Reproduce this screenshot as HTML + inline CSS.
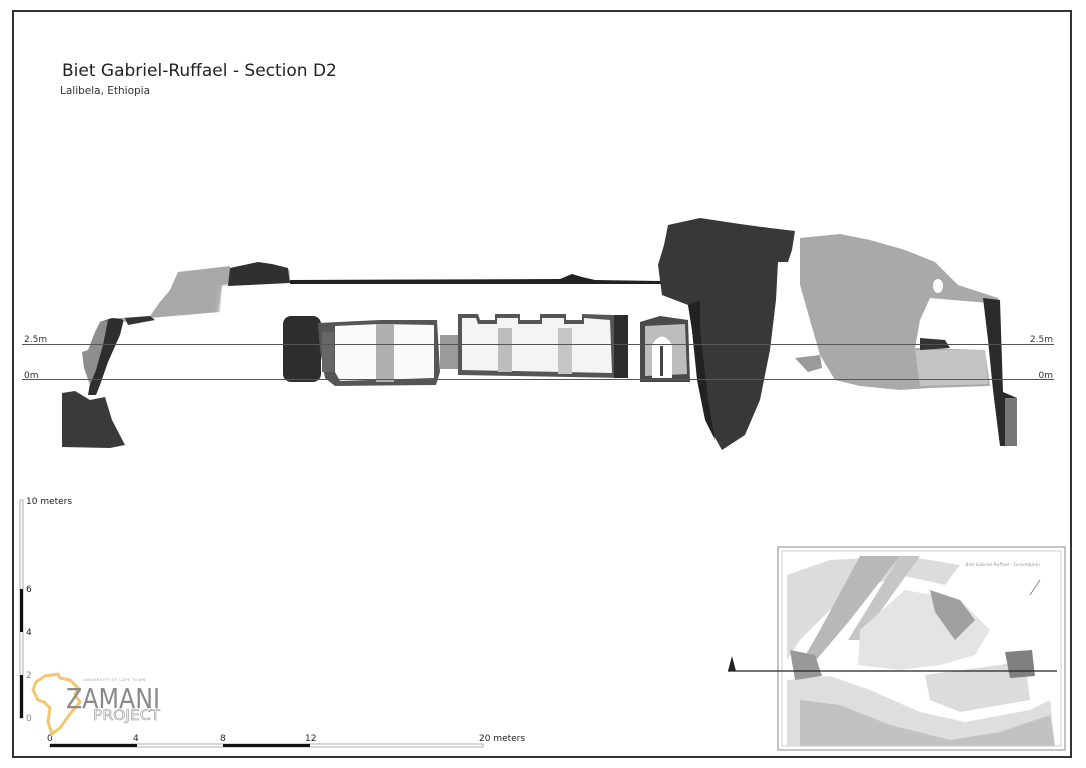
<!DOCTYPE html>
<html><head><meta charset="utf-8"><style>
html,body{margin:0;padding:0;background:#fff;width:1086px;height:768px;overflow:hidden}
svg{display:block}
text{font-family:"DejaVu Sans","Liberation Sans",sans-serif}
</style></head><body>
<svg width="1086" height="768" viewBox="0 0 1086 768" xmlns="http://www.w3.org/2000/svg">
<rect x="13" y="11" width="1058" height="746" fill="#fff" stroke="#333" stroke-width="2"/>
<text x="62" y="76" font-size="17" fill="#222">Biet Gabriel-Ruffael - Section D2</text>
<text x="60" y="94" font-size="10.5" fill="#333">Lalibela, Ethiopia</text>

<!-- left section -->
<polygon points="62,393 75,391 90,400 105,397 112,420 125,445 110,448 62,447" fill="#3a3a3a"/>
<polygon points="100,322 112,318 124,319 120,335 108,362 100,385 96,395 88,395 92,372 97,350" fill="#2e2e2e"/>
<polygon points="88,350 95,332 100,322 108,320 103,345 96,370 90,385 84,368 82,352" fill="#8e8e8e"/>
<polygon points="120,318 150,316 160,302 170,290 178,272 230,266 232,283 222,285 218,312 150,318 125,322" fill="#a8a8a8"/>
<polygon points="160,318 215,312 218,285 232,284 232,268 262,263 278,266 290,270 290,282 222,286 220,312" fill="#b5b5b5" opacity="0.6"/>
<polygon points="230,268 258,262 272,264 288,268 290,283 228,286" fill="#303030"/>
<polygon points="125,318 150,316 155,320 128,325" fill="#333"/>
<polygon points="290,280 560,279 572,274 582,277 595,280 662,281 662,284 290,284" fill="#222"/>

<!-- central rooms -->
<rect x="283" y="316" width="38" height="66" rx="8" fill="#2d2d2d"/>
<polygon points="318,323 380,320 437,320 440,372 436,385 335,386 325,378 320,350" fill="#555"/>
<polygon points="335,326 380,324 434,325 434,378 340,381 335,372" fill="#fafafa"/>
<rect x="376" y="324" width="18" height="58" fill="#b0b0b0"/>
<rect x="322" y="332" width="12" height="40" fill="#666"/>
<rect x="440" y="335" width="18" height="34" fill="#9a9a9a"/>
<polygon points="458,314 478,314 480,320 495,320 495,314 520,314 520,320 540,320 540,314 566,314 566,320 582,320 582,314 612,315 625,316 625,378 458,375" fill="#555"/>
<polygon points="462,318 476,318 478,324 497,324 497,318 518,318 518,324 542,324 542,318 564,318 564,324 584,324 584,318 610,320 612,373 462,370" fill="#f4f4f4"/>
<rect x="498" y="328" width="14" height="44" fill="#bdbdbd"/>
<rect x="558" y="328" width="14" height="46" fill="#c5c5c5"/>
<rect x="614" y="315" width="14" height="63" fill="#2c2c2c"/>
<polygon points="640,322 660,316 688,320 690,382 640,382" fill="#4a4a4a"/>
<polygon points="645,326 685,324 687,374 645,376" fill="#bdbdbd"/>
<path d="M652,378 V345 Q662,328 672,345 V378 Z" fill="#fff"/>
<rect x="660" y="346" width="3" height="30" fill="#444"/>

<!-- big dark wedge -->
<polygon points="668,225 700,218 740,224 770,228 795,231 792,250 788,262 778,262 776,300 770,350 760,400 745,435 722,450 708,425 698,385 692,330 688,305 662,295 658,265 664,245" fill="#383838"/>
<polygon points="688,305 700,300 700,330 708,400 715,440 705,420 697,380 692,330" fill="#222"/>

<!-- right light mass -->
<polygon points="800,238 840,234 870,240 905,250 935,262 958,285 998,298 1000,304 930,298 920,320 915,348 985,350 990,386 930,388 900,390 860,386 835,380 820,355 810,320 800,285" fill="#a9a9a9"/>
<polygon points="915,350 985,350 988,384 920,386" fill="#c4c4c4"/>
<polygon points="920,338 945,340 950,348 920,350" fill="#333"/>
<polygon points="795,358 820,355 822,368 808,372" fill="#9a9a9a"/>
<ellipse cx="938" cy="286" rx="5" ry="7" fill="#fff"/>
<!-- right dark wall -->
<polygon points="983,298 1000,300 1003,392 1017,398 1017,446 1000,446 993,390 988,340" fill="#2a2a2a"/>
<rect x="1005" y="398" width="12" height="48" fill="#777"/>

<!-- level lines -->
<line x1="22" y1="344.5" x2="1054" y2="344.5" stroke="#555" stroke-width="1"/>
<line x1="22" y1="379.5" x2="1054" y2="379.5" stroke="#555" stroke-width="1"/>
<text x="24" y="342" font-size="9" fill="#333">2.5m</text>
<text x="24" y="378" font-size="9" fill="#333">0m</text>
<text x="1053" y="342" font-size="9" fill="#333" text-anchor="end">2.5m</text>
<text x="1053" y="378" font-size="9" fill="#333" text-anchor="end">0m</text>

<!-- vertical scale -->
<rect x="20" y="500" width="3" height="218" fill="#fff" stroke="#999" stroke-width="0.8"/>
<rect x="20" y="589" width="3" height="43" fill="#111"/>
<rect x="20" y="675" width="3" height="43" fill="#111"/>
<text x="26" y="504" font-size="9" fill="#222">10 meters</text>
<text x="26" y="592" font-size="9" fill="#222">6</text>
<text x="26" y="635" font-size="9" fill="#222">4</text>
<text x="26" y="678" font-size="9" fill="#888">2</text>
<text x="26" y="721" font-size="9" fill="#888">0</text>

<!-- horizontal scale -->
<rect x="50" y="744" width="433" height="3" fill="#fff" stroke="#999" stroke-width="0.8"/>
<rect x="50" y="744" width="87" height="3" fill="#111"/>
<rect x="223" y="744" width="87" height="3" fill="#111"/>
<text x="47" y="741" font-size="9" fill="#222">0</text>
<text x="133" y="741" font-size="9" fill="#222">4</text>
<text x="220" y="741" font-size="9" fill="#222">8</text>
<text x="305" y="741" font-size="9" fill="#222">12</text>
<text x="479" y="741" font-size="9" fill="#222">20 meters</text>

<!-- logo -->
<path d="M45,676 L58,674 L60,678 L70,680 L78,688 L75,695 L80,702 L70,714 L60,728 L52,734 L48,722 L50,708 L44,702 L38,700 L33,690 L36,682 Z" fill="none" stroke="#f2c572" stroke-width="3"/>
<text x="83" y="681" font-size="3.5" fill="#999" letter-spacing="0.6">UNIVERSITY OF CAPE TOWN</text>
<text x="66" y="708" font-size="28" fill="#8a8a8a" textLength="94" lengthAdjust="spacingAndGlyphs">ZAMANI</text>
<text x="93" y="720" font-size="14" fill="none" stroke="#999" stroke-width="0.6" textLength="67" lengthAdjust="spacingAndGlyphs">PROJECT</text>

<!-- inset -->
<rect x="778" y="547" width="287" height="203" fill="#fff" stroke="#888" stroke-width="1"/>
<rect x="782" y="551" width="279" height="195" fill="#fff" stroke="#bbb" stroke-width="0.7"/>
<polygon points="787,575 830,560 905,556 960,565 945,585 900,575 860,590 830,610 800,640 787,660" fill="#dcdcdc"/>
<polygon points="860,556 900,556 850,620 812,665 800,665 820,630" fill="#b8b8b8"/>
<polygon points="900,556 920,556 860,640 848,640" fill="#c6c6c6"/>
<polygon points="905,590 960,600 990,630 975,655 940,665 900,670 858,665 860,630" fill="#e4e4e4"/>
<polygon points="930,590 960,600 975,620 955,640 935,612" fill="#a0a0a0"/>
<polygon points="787,680 830,676 870,690 920,712 965,722 1030,710 1050,700 1055,746 787,746" fill="#dedede"/>
<polygon points="800,700 840,705 890,725 950,740 1000,732 1050,715 1055,746 800,746" fill="#c2c2c2"/>
<polygon points="925,675 1000,665 1025,660 1030,700 960,712 930,700" fill="#dcdcdc"/>
<polygon points="1005,652 1032,650 1035,676 1010,678" fill="#808080"/>
<polygon points="790,650 815,655 822,676 795,680" fill="#999"/>
<text x="1040" y="566" font-size="4.5" fill="#999" text-anchor="end">Biet Gabriel-Ruffael - Groundplan</text>
<line x1="1030" y1="595" x2="1040" y2="580" stroke="#777" stroke-width="0.8"/>
<line x1="728" y1="671" x2="1057" y2="671" stroke="#222" stroke-width="1.2"/>
<polygon points="728,671 732,656 736,671" fill="#222"/>
</svg>
</body></html>
